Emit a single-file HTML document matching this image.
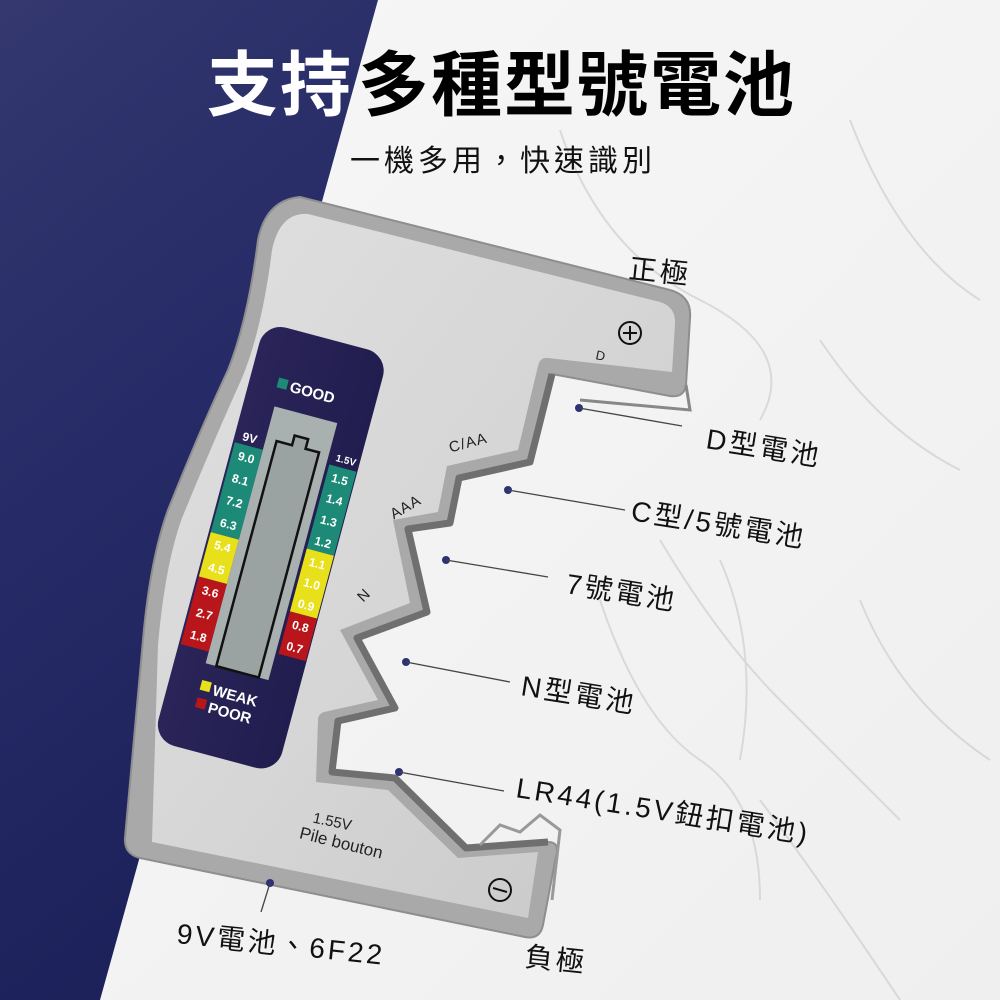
<!DOCTYPE html>
<html><head><meta charset="utf-8"><style>
html,body{margin:0;padding:0;width:1000px;height:1000px;overflow:hidden;background:#f4f4f4}
svg{display:block}
</style></head><body>
<svg width="1000" height="1000" viewBox="0 0 1000 1000" xmlns="http://www.w3.org/2000/svg" font-family="'Liberation Sans','Noto Sans CJK TC',sans-serif">
<defs>
<linearGradient id="navy" x1="0" y1="0" x2="0.3" y2="1">
<stop offset="0" stop-color="#34386f"/><stop offset="0.5" stop-color="#262a66"/><stop offset="1" stop-color="#1d215a"/>
</linearGradient>
<linearGradient id="marble" x1="0" y1="0" x2="1" y2="1">
<stop offset="0" stop-color="#f7f7f7"/><stop offset="1" stop-color="#efefef"/>
</linearGradient>
<linearGradient id="metal" x1="0" y1="0" x2="1" y2="1">
<stop offset="0" stop-color="#e0e0e0"/><stop offset="0.5" stop-color="#d6d6d6"/><stop offset="1" stop-color="#c8c8c8"/>
</linearGradient>
<linearGradient id="pan" x1="0" y1="0" x2="1" y2="0">
<stop offset="0" stop-color="#2a2458"/><stop offset="1" stop-color="#221d4f"/>
</linearGradient>
</defs>
<rect width="1000" height="1000" fill="url(#marble)"/>
<g stroke="#cfcfcf" stroke-width="2" fill="none" opacity="0.7">
<path d="M560 130 Q600 250 700 300 T760 420"/>
<path d="M660 540 Q720 640 780 700 T900 820"/>
<path d="M720 560 Q760 650 740 760"/>
<path d="M820 340 Q880 430 960 470"/>
<path d="M600 600 Q640 720 700 760 T760 900"/>
<path d="M850 120 Q900 250 980 300"/>
<path d="M760 800 Q820 880 900 1000"/>
<path d="M860 600 Q900 700 990 760"/>
</g>
<polygon points="0,0 378,0 100,1000 0,1000" fill="url(#navy)"/>

<!-- device body -->
<path d="M300 197 L670 290 Q692 296 690 318 L686 385 Q684 398 670 396 L552 374 L530 462 L459 478 L450 523 L408 529 L427 612 L357 638 L395 708 L338 721 L332 772 L395 778 L466 848 L548 842 Q560 842 556 856 L543 925 Q540 940 525 937 L140 858 Q124 854 125 838 L143 640 Q150 560 168 510 Q200 430 228 370 Q248 320 258 240 Q266 200 300 197 Z" fill="#a9a9a9" stroke="#8e8e8e" stroke-width="2"/>
<path d="M308 214 L660 302 Q676 307 675 324 L672 372 L548 358 Q540 357 538 366 L518 450 L447 466 L438 512 L393 520 L410 603 L340 630 L378 700 L324 712 Q318 714 318 720 L316 782 L388 790 L458 858 L538 852 L528 918 L152 842 L158 645 Q165 565 182 518 Q214 440 242 378 Q262 330 272 250 Q280 212 308 214 Z" fill="url(#metal)"/>
<path d="M552 374 L530 462 L459 478 L450 523 L408 529 L427 612 L357 638 L395 708 L338 721 L332 772 L395 778 L466 848 L548 842" fill="none" stroke="#6f6f6f" stroke-width="7" stroke-linejoin="round"/>
<path d="M686 385 L690 410 L580 400" fill="none" stroke="#888" stroke-width="3"/>
<path d="M480 845 L500 825 L520 832 L540 815 L560 830 L552 900" fill="none" stroke="#999" stroke-width="3"/>

<!-- panel -->
<g transform="translate(265,322) rotate(15)">
<rect x="0" y="0" width="128" height="433" rx="22" fill="url(#pan)"/>
<rect x="28" y="50" width="10" height="10" fill="#1d8a78"/>
<text x="41" y="61" font-size="15" font-weight="bold" fill="#fff">GOOD</text>
<rect x="31" y="79" width="65" height="266" fill="#a9b1b0"/>
<path d="M42 345 L42 112 L58 112 L58 102 L72 102 L72 112 L86 112 L86 345 Z" fill="#9aa3a2" stroke="#111" stroke-width="2.5"/>
<text x="8" y="120" font-size="12" font-weight="bold" fill="#fff">9V</text>
<g font-size="12" font-weight="bold" fill="#fff" text-anchor="middle">
<rect x="2" y="124" width="29" height="93" fill="#1d8a78"/>
<rect x="2" y="217" width="29" height="46" fill="#e8e01a"/>
<rect x="2" y="263" width="29" height="70" fill="#b8161a"/>
<text x="17" y="140">9.0</text><text x="17" y="163">8.1</text><text x="17" y="186">7.2</text><text x="17" y="209">6.3</text>
<text x="17" y="232">5.4</text><text x="17" y="255">4.5</text>
<text x="17" y="279">3.6</text><text x="17" y="302">2.7</text><text x="17" y="325">1.8</text>
<text x="114" y="116" font-size="10">1.5V</text>
<rect x="99" y="121" width="28" height="87" fill="#1d8a78"/>
<rect x="99" y="208" width="28" height="65" fill="#e8e01a"/>
<rect x="99" y="273" width="28" height="44" fill="#b8161a"/>
<text x="113" y="137">1.5</text><text x="113" y="158">1.4</text><text x="113" y="180">1.3</text><text x="113" y="202">1.2</text>
<text x="113" y="224">1.1</text><text x="113" y="245">1.0</text><text x="113" y="267">0.9</text>
<text x="113" y="289">0.8</text><text x="113" y="311">0.7</text>
</g>
<rect x="32" y="362" width="10" height="10" fill="#e8e01a"/>
<rect x="32" y="380" width="10" height="10" fill="#b8161a"/>
<text x="45" y="374" font-size="15" font-weight="bold" fill="#fff">WEAK</text>
<text x="45" y="392" font-size="15" font-weight="bold" fill="#fff">POOR</text>
</g>

<circle cx="630" cy="333" r="11" fill="none" stroke="#111" stroke-width="2"/>
<path d="M623 333 H637 M630 326 V340" stroke="#111" stroke-width="2"/>
<text x="596" y="360" font-size="13" fill="#222" transform="rotate(12 600 355)">D</text>
<text x="448" y="447" font-size="15" fill="#222" letter-spacing="1" transform="rotate(-15 470 440)">C/AA</text>
<text x="388" y="512" font-size="15" fill="#222" letter-spacing="1" transform="rotate(-30 405 505)">AAA</text>
<text x="358" y="600" font-size="15" fill="#222" transform="rotate(-45 364 595)">N</text>
<text x="313" y="826" font-size="15" fill="#222" transform="rotate(12 330 820)">1.55V</text>
<text x="296" y="851" font-size="17" fill="#222" transform="rotate(14 350 855)">Pile bouton</text>
<circle cx="500" cy="890" r="11" fill="none" stroke="#111" stroke-width="2"/>
<path d="M493 888 L507 892" stroke="#111" stroke-width="2"/>

<text x="207" y="110" font-size="71" font-weight="bold" fill="#fff" letter-spacing="2" font-family="'Noto Sans CJK TC',sans-serif">支持</text>
<text x="358" y="110" font-size="71" font-weight="bold" fill="#000" letter-spacing="2" font-family="'Noto Sans CJK TC',sans-serif">多種型號電池</text>
<text x="350" y="171" font-size="30" fill="#111" letter-spacing="4" font-family="'Noto Sans CJK TC',sans-serif">一機多用，快速識別</text>

<g fill="#2d3275">
<circle cx="579" cy="408" r="4"/><circle cx="508" cy="490" r="4"/><circle cx="446" cy="560" r="4"/><circle cx="406" cy="662" r="4"/><circle cx="399" cy="772" r="4"/><circle cx="270" cy="883" r="4"/>
</g>
<g stroke="#444" stroke-width="1.3">
<line x1="579" y1="408" x2="682" y2="426"/><line x1="508" y1="490" x2="625" y2="510"/><line x1="446" y1="560" x2="548" y2="577"/><line x1="406" y1="662" x2="510" y2="682"/><line x1="399" y1="772" x2="504" y2="791"/><line x1="270" y1="883" x2="261" y2="912"/>
</g>
<g font-size="28" fill="#111" letter-spacing="3" font-family="'Liberation Sans','Noto Sans CJK TC',sans-serif">
<text x="628" y="278" transform="rotate(6 628 278)">正極</text>
<text x="705" y="448" transform="rotate(9 705 448)">D型電池</text>
<text x="630" y="520" transform="rotate(9 630 520)">C型/5號電池</text>
<text x="565" y="593" transform="rotate(9 565 593)">7號電池</text>
<text x="520" y="695" transform="rotate(9 520 695)">N型電池</text>
<text x="515" y="797" transform="rotate(9 515 797)">LR44(1.5V鈕扣電池)</text>
<text x="176" y="943" transform="rotate(6 176 943)">9V電池、6F22</text>
<text x="524" y="966" transform="rotate(6 524 966)">負極</text>
</g>
</svg>
</body></html>
